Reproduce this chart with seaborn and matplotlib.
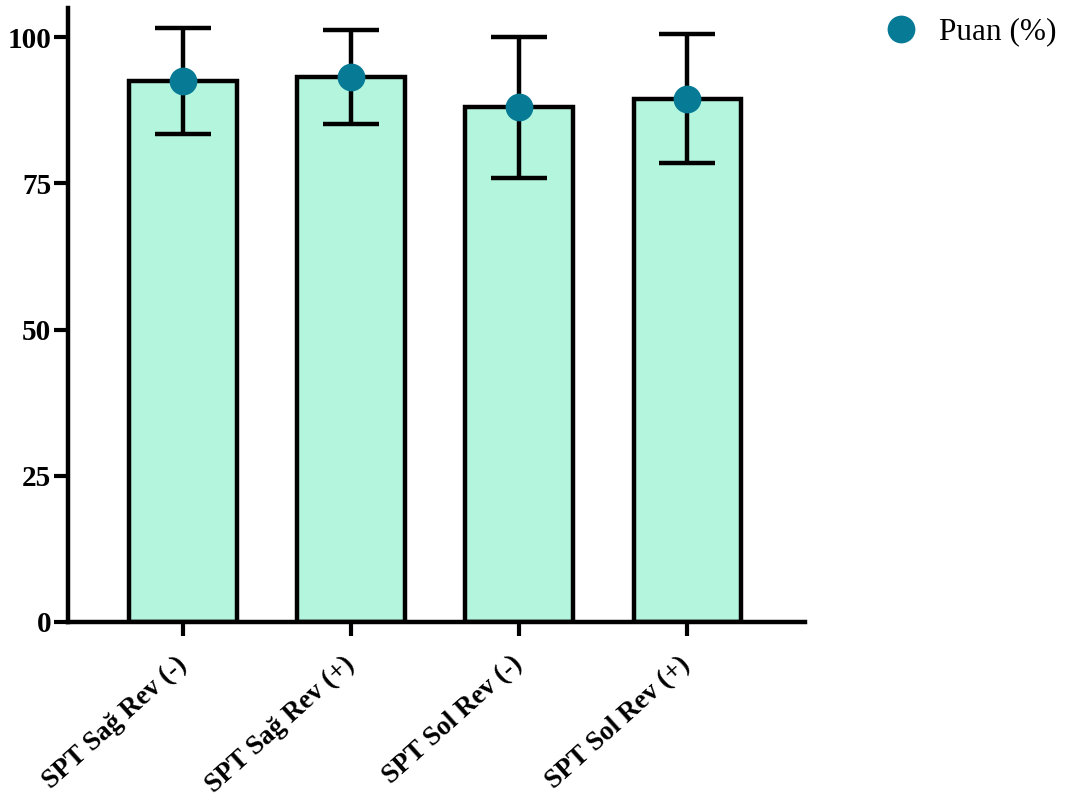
import matplotlib
matplotlib.use("Agg")
import matplotlib.pyplot as plt
import seaborn as sns
import pandas as pd
from matplotlib.lines import Line2D

# Data
categories = ["SPT Sağ Rev (-)", "SPT Sağ Rev (+)", "SPT Sol Rev (-)", "SPT Sol Rev (+)"]
means = [92.5, 93.2, 88.0, 89.5]
sds = [9.1, 8.1, 12.0, 11.0]
y_ticks = [0, 25, 50, 75, 100]
legend_label = "Puan (%)"

df = pd.DataFrame({"grup": categories, "puan": means, "sd": sds})

sns.set_style("ticks", {"axes.edgecolor": "black", "text.color": "black",
                        "xtick.color": "black", "ytick.color": "black"})
plt.rcParams["font.family"] = ["Liberation Serif", "DejaVu Serif"]

fig = plt.figure(figsize=(10.68, 7.96), dpi=100)
ax = fig.add_axes([0.0637, 0.2186, 0.69, 0.7714])

bar_color = "#B4F5DE"
dot_color = "#077B96"

sns.barplot(data=df, x="grup", y="puan", errorbar=None, color=bar_color,
            saturation=1, width=0.64, edgecolor="black", linewidth=3.2, ax=ax)

x = range(len(categories))
ax.errorbar(x, df["puan"], yerr=df["sd"], fmt="none", ecolor="black",
            elinewidth=3.2, capsize=20, capthick=3.2, zorder=4)
ax.plot(x, df["puan"], "o", color=dot_color, markersize=20,
        markeredgewidth=0, zorder=5)

ax.set_ylim(0, 105)
ax.set_xlim(-0.685, 3.7)
ax.set_yticks(y_ticks)
ax.set_yticklabels([str(v) for v in y_ticks], fontsize=21, fontweight="bold",
                   color="black")
ax.set_xticks(list(x))
ax.set_xticklabels(categories, rotation=42, ha="right", va="center",
                   rotation_mode="anchor", fontsize=19.5, fontweight="bold",
                   color="black")
ax.set_xlabel("")
ax.set_ylabel("")

for side in ["top", "right"]:
    ax.spines[side].set_visible(False)
for side in ["left", "bottom"]:
    ax.spines[side].set_linewidth(3.2)
    ax.spines[side].set_color("black")
ax.tick_params(axis="both", width=3.0, length=10, color="black", pad=2)
ax.tick_params(axis="x", pad=18)

handle = Line2D([], [], marker="o", linestyle="none", color=dot_color,
                markersize=20, markeredgewidth=0)
fig.legend([handle], [legend_label], loc="center left",
           bbox_to_anchor=(885 / 1068, 1 - 32 / 796), frameon=False,
           fontsize=22.5, handlelength=1.0, handletextpad=0.72,
           borderpad=0, borderaxespad=0, labelcolor="black")

fig.savefig("out.png", dpi=100)
